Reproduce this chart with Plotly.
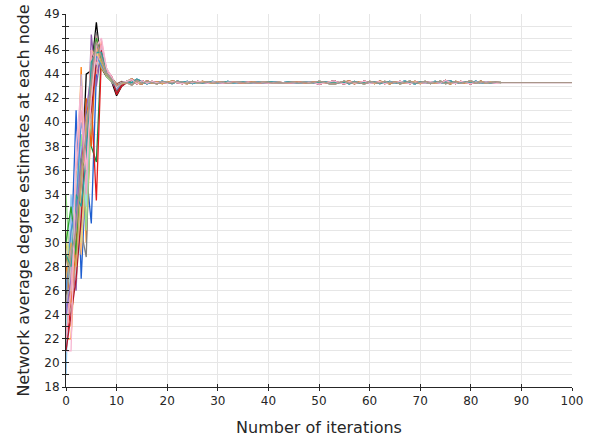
import plotly.graph_objects as go

# ---------------- data ----------------
# early iterations 0..12 for each node
early = {
    "black":     [26, 24, 30, 34, 44, 44.3, 48.3, 44.5, 43.8, 43.4, 42.2, 43.0, 43.3],
    "blue":      [24, 29, 41, 27, 36, 31.6, 44, 45.5, 44, 43.5, 42.8, 43.2, 43.4],
    "orange":    [22, 22, 31, 44.6, 30, 41, 46.5, 45, 44, 43.6, 43.0, 43.3, 43.3],
    "green":     [25, 27, 33, 35, 41.4, 38, 36.7, 46, 44.5, 43.5, 42.6, 43.2, 43.4],
    "red":       [21, 25, 28, 34, 38, 42, 33.5, 45.5, 44.2, 43.8, 42.3, 43.0, 43.3],
    "purple":    [27, 29, 26, 38, 35, 47.3, 43, 46, 44, 43.4, 42.7, 43.1, 43.3],
    "brown":     [29, 26, 32, 30, 40, 43, 47, 45, 44.2, 43.7, 43.2, 43.4, 43.3],
    "pink":      [23, 30, 27, 36, 33, 45, 46, 45.5, 44.3, 43.8, 42.9, 43.2, 43.4],
    "gray":      [28, 27, 34, 31, 28.8, 44, 47.5, 45, 44, 43.5, 43.1, 43.3, 43.3],
    "olive":     [30, 25, 36, 33, 39, 42, 46, 44.5, 43.9, 43.4, 42.9, 43.3, 43.3],
    "cyan":      [26, 28, 30, 37, 34, 44, 45, 46.5, 44.2, 43.6, 42.8, 43.2, 43.4],
    "ltblue":    [19, 34, 28, 33, 40, 39, 46, 44.8, 44.0, 43.5, 43.0, 43.3, 43.3],
    "ltorange":  [24, 23, 35, 29, 37, 46, 45.5, 45.3, 44.1, 43.6, 43.1, 43.2, 43.4],
    "ltgreen":   [34, 26, 30, 39, 31, 41, 47, 45, 43.8, 43.4, 42.9, 43.3, 43.3],
    "ltred":     [22, 28, 33, 32, 38, 45.5, 44, 46.8, 44.4, 43.7, 43.0, 43.2, 43.4],
    "lavender":  [25, 27, 31, 44, 35, 43, 46, 45, 44, 43.5, 42.8, 43.3, 43.3],
    "tan":       [27, 24, 29, 35, 39, 40, 47.2, 44.6, 43.9, 43.5, 43.0, 43.2, 43.3],
    "ltgray":    [29, 31, 27, 34, 37, 44.5, 46, 45.2, 44.1, 43.6, 43.1, 43.3, 43.3],
    "ltolive":   [31, 26, 33, 30, 40, 43, 45.8, 44.9, 44.0, 43.5, 42.9, 43.2, 43.4],
    "ltcyan":    [23, 29, 35, 38, 33, 45, 44.5, 46.2, 44.3, 43.7, 43.0, 43.3, 43.3],
    "dkorange":  [28, 25, 30, 36, 42, 38, 46.8, 45.5, 44, 43.6, 43.1, 43.2, 43.3],
    "medgreen":  [30, 33, 29, 37, 36, 44, 47, 45, 44, 43.5, 42.9, 43.2, 43.4],
    "dkred":     [21, 24, 27, 32, 39, 41, 45, 46, 44.4, 43.8, 42.4, 43.1, 43.3],
    "steel":     [26, 31, 33, 40, 38, 43, 45.5, 44.8, 44, 43.5, 42.9, 43.3, 43.3],
    "violet":    [24, 27, 32, 37, 41, 44, 46.5, 45.6, 44.2, 43.6, 42.9, 43.2, 43.4],
    "pink2":     [22, 26, 36, 41, 34, 46, 44.8, 46.4, 44.3, 43.7, 43.0, 43.3, 43.3],
    "sand":      [27, 30, 28, 35, 40, 42.5, 46.2, 45.0, 44.0, 43.5, 43.0, 43.2, 43.3],
    "teal":      [29, 28, 34, 33, 37, 45, 45.8, 45.8, 44.1, 43.6, 42.9, 43.3, 43.4],
    "ltpink":    [21, 21, 38, 43, 36, 42, 46.3, 47, 44.5, 43.8, 42.9, 43.3, 43.4],
    "graybrown": [25, 29, 31, 36, 39, 43.5, 46.7, 45.3, 44.1, 43.6, 43.0, 43.3, 43.3],
}

# converged tails, iterations 13..86
tail_a = [43.55, 43.20, 43.45, 43.25, 43.40, 43.28, 43.36, 43.24, 43.38, 43.30,
          43.22, 43.36, 43.27, 43.40, 43.31, 43.23, 43.35, 43.30, 43.26, 43.34,
          43.31, 43.27, 43.30, 43.34, 43.28, 43.32, 43.30, 43.26, 43.31, 43.29,
          43.33, 43.30, 43.27, 43.31, 43.29, 43.34, 43.30, 43.18, 43.26, 43.36,
          43.44, 43.28, 43.20, 43.38, 43.26, 43.31, 43.42, 43.24, 43.30, 43.37,
          43.22, 43.33, 43.27, 43.40, 43.30, 43.21, 43.34, 43.30, 43.26, 43.38,
          43.30, 43.24, 43.48, 43.31, 43.22, 43.40, 43.30, 43.20, 43.35, 43.27,
          43.36, 43.30, 43.24, 43.30]
tail_b = [43.10, 43.50, 43.22, 43.42, 43.30, 43.20, 43.38, 43.33, 43.25, 43.40,
          43.34, 43.26, 43.39, 43.27, 43.30, 43.37, 43.25, 43.32, 43.38, 43.24,
          43.29, 43.35, 43.31, 43.26, 43.33, 43.29, 43.35, 43.31, 43.28, 43.32,
          43.27, 43.32, 43.35, 43.28, 43.33, 43.26, 43.31, 43.40, 43.36, 43.22,
          43.18, 43.33, 43.42, 43.24, 43.36, 43.28, 43.19, 43.39, 43.33, 43.25,
          43.40, 43.27, 43.35, 43.20, 43.31, 43.41, 43.25, 43.33, 43.39, 43.22,
          43.34, 43.42, 43.21, 43.29, 43.38, 43.24, 43.31, 43.44, 43.25, 43.36,
          43.26, 43.33, 43.37, 43.30]
tail_c = [43.62, 43.28, 43.18, 43.46, 43.24, 43.37, 43.22, 43.33, 43.42, 43.36,
          43.25, 43.22, 43.36, 43.31, 43.40, 43.27, 43.24, 43.37, 43.30, 43.28,
          43.34, 43.30, 43.27, 43.32, 43.35, 43.28, 43.31, 43.34, 43.29, 43.27,
          43.31, 43.28, 43.33, 43.34, 43.27, 43.31, 43.35, 43.30, 43.24, 43.36,
          43.30, 43.23, 43.34, 43.44, 43.20, 43.38, 43.25, 43.36, 43.22, 43.41,
          43.31, 43.20, 43.37, 43.33, 43.23, 43.34, 43.40, 43.21, 43.36, 43.30,
          43.23, 43.38, 43.32, 43.20, 43.40, 43.34, 43.24, 43.37, 43.27, 43.41,
          43.25, 43.35, 43.27, 43.31]
tail_d = [43.30, 43.58, 43.36, 43.20, 43.35, 43.24, 43.42, 43.27, 43.21, 43.41,
          43.31, 43.40, 43.22, 43.36, 43.26, 43.33, 43.39, 43.25, 43.34, 43.40,
          43.27, 43.32, 43.35, 43.29, 43.27, 43.35, 43.28, 43.33, 43.36, 43.30,
          43.29, 43.35, 43.29, 43.26, 43.32, 43.35, 43.27, 43.32, 43.38, 43.29,
          43.36, 43.24, 43.31, 43.19, 43.40, 43.23, 43.35, 43.27, 43.38, 43.21,
          43.30, 43.39, 43.24, 43.30, 43.42, 43.27, 43.20, 43.38, 43.27, 43.33,
          43.40, 43.26, 43.35, 43.43, 43.23, 43.30, 43.37, 43.26, 43.41, 43.23,
          43.36, 43.25, 43.34, 43.28]
# plateau for the nodes that keep running to iteration 100 (iterations 87..100)
plateau = [43.30, 43.30, 43.30, 43.30, 43.30, 43.30, 43.30,
           43.30, 43.30, 43.30, 43.30, 43.30, 43.30, 43.30]

tails = [tail_a, tail_b, tail_c, tail_d]
# last iteration reached by each node
last_iter = [84, 85, 83, 86, 84, 85, 86, 83, 84, 85,
             86, 84, 83, 85, 86, 84, 85, 83, 86, 84,
             85, 86, 83, 84, 85, 86, 84, 85, 100, 100]
long_runs = {"ltpink", "graybrown"}

colors = {
    "blue": "#1f5fd0", "orange": "#ff7f0e", "green": "#1a8a3a", "red": "#e31a1c",
    "purple": "#8e5aa8", "brown": "#8c564b", "pink": "#e377c2", "gray": "#7f7f7f",
    "olive": "#bcbd22", "cyan": "#17becf", "ltblue": "#8ec6f0", "ltorange": "#ffbb78",
    "ltgreen": "#98df8a", "ltred": "#ff9896", "lavender": "#c5b0d5", "tan": "#c49c94",
    "ltgray": "#c7c7c7", "ltolive": "#dbdb8d", "ltcyan": "#9edae5", "dkorange": "#e8600a",
    "medgreen": "#2ca02c", "dkred": "#b2182b", "steel": "#4a90d9", "violet": "#9467bd",
    "pink2": "#f4a6c0", "sand": "#d6a860", "teal": "#2aa198", "ltpink": "#f7b6d2",
    "graybrown": "#a8968a", "black": "#000000",
}

# ---------------- figure ----------------
fig = go.Figure()
for i, (name, vals) in enumerate(early.items()):
    y = list(vals) + list(tails[i % 4])
    if name in long_runs:
        y = y + plateau
    y = y[: last_iter[i] + 1]
    x = list(range(len(y)))
    fig.add_trace(go.Scatter(x=x, y=y, mode="lines", name=name,
                             line=dict(color=colors[name], width=1.3),
                             showlegend=False, hoverinfo="skip"))

font_family = "DejaVu Sans"
y_ticks = [18, 20, 22, 24, 26, 28, 30, 32, 34, 36, 38, 40, 42, 44, 46, 49]
x_ticks = [0, 10, 20, 30, 40, 50, 60, 70, 80, 90, 100]

fig.update_layout(
    width=590, height=441,
    margin=dict(l=66, r=18, t=14, b=54),
    paper_bgcolor="white", plot_bgcolor="white",
    font=dict(family=font_family, size=12, color="#262626"),
    xaxis=dict(
        range=[0, 100], tickvals=x_ticks, ticks="outside", ticklen=3,
        tickcolor="#262626", showline=True, linecolor="#262626", linewidth=1,
        showgrid=True, gridcolor="#e6e6e6", gridwidth=1, zeroline=False,
        title=dict(text="Number of iterations", font=dict(size=16), standoff=14),
        automargin=False,
    ),
    yaxis=dict(
        range=[18, 49], tickvals=y_ticks, ticks="outside", ticklen=3,
        tickcolor="#262626", showline=True, linecolor="#262626", linewidth=1,
        showgrid=True, gridcolor="#e6e6e6", gridwidth=1, zeroline=False,
        minor=dict(dtick=1, ticks="outside", ticklen=3, tickcolor="#262626",
                   showgrid=True, gridcolor="#e6e6e6", gridwidth=1),
        title=dict(text="Network average degree estimates at each node",
                   font=dict(size=16), standoff=10),
        automargin=False,
    ),
    # overlay axes give the inner half of the crossing ticks
    xaxis2=dict(range=[0, 100], tickvals=x_ticks, ticks="inside", ticklen=3,
                tickcolor="#262626", showticklabels=False, showgrid=False,
                zeroline=False, overlaying="x", side="bottom", anchor="y"),
    yaxis2=dict(range=[18, 49], tickvals=y_ticks, ticks="inside", ticklen=3,
                tickcolor="#262626", showticklabels=False, showgrid=False,
                zeroline=False, overlaying="y", side="left", anchor="x",
                minor=dict(dtick=1, ticks="inside", ticklen=3, tickcolor="#262626")),
)
# invisible trace to activate the overlay axes
fig.add_trace(go.Scatter(x=[0], y=[18], xaxis="x2", yaxis="y2", mode="markers",
                         marker=dict(opacity=0), showlegend=False, hoverinfo="skip"))

fig.write_html("out.html",
               config={"displayModeBar": False},
               post_script="document.body.style.margin='0';"
                           "document.body.style.overflow='hidden';")
